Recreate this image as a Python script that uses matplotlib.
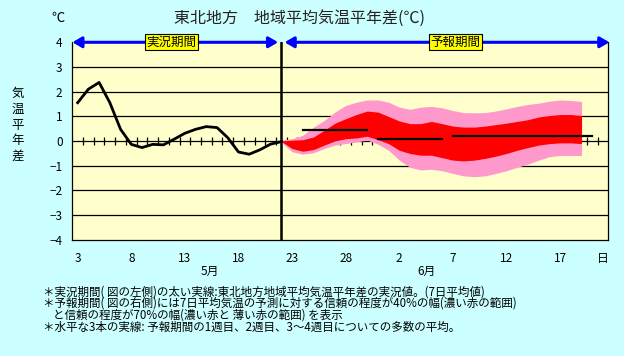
import matplotlib
matplotlib.use('Agg')
import matplotlib.pyplot as plt
import numpy as np

plt.rcParams['font.family'] = ['Noto Sans CJK JP', 'DejaVu Sans']

# day index 0 = May 3 ... 49 = June 21
tick_pos = [0, 5, 10, 15, 20, 25, 30, 35, 40, 45, 49]
tick_labels = ['3', '8', '13', '18', '23', '28', '2', '7', '12', '17', '日']

# observed 7-day mean anomaly, May 3 - May 22
obs = [1.55, 2.10, 2.37, 1.55, 0.47, -0.14, -0.27, -0.14, -0.16, 0.07,
       0.31, 0.47, 0.58, 0.54, 0.13, -0.45, -0.54, -0.36, -0.13, -0.03]

# forecast ranges, May 22 - June 19
fc_start = 19
pink_hi = [0.03, 0.09, 0.23, 0.56, 0.83, 1.17, 1.44, 1.57, 1.66, 1.66,
           1.57, 1.37, 1.28, 1.37, 1.40, 1.34, 1.23, 1.15, 1.14, 1.15,
           1.21, 1.30, 1.40, 1.48, 1.53, 1.61, 1.66, 1.64, 1.60]
red_hi = [0.0, 0.03, 0.05, 0.16, 0.43, 0.72, 0.90, 1.07, 1.21, 1.17,
          0.99, 0.81, 0.70, 0.70, 0.79, 0.70, 0.60, 0.56, 0.56, 0.60,
          0.66, 0.72, 0.79, 0.86, 0.97, 1.03, 1.07, 1.07, 1.03]
red_lo = [-0.02, -0.31, -0.42, -0.35, -0.17, 0.0, 0.09, 0.12, 0.19, 0.05,
          -0.11, -0.38, -0.51, -0.58, -0.58, -0.68, -0.78, -0.81, -0.78, -0.71,
          -0.62, -0.51, -0.38, -0.27, -0.17, -0.11, -0.08, -0.08, -0.11]
pink_lo = [-0.05, -0.44, -0.54, -0.48, -0.31, -0.17, -0.11, -0.04, 0.03, -0.13,
           -0.38, -0.78, -1.07, -1.18, -1.15, -1.21, -1.32, -1.42, -1.45, -1.42,
           -1.32, -1.21, -1.07, -0.94, -0.78, -0.64, -0.59, -0.59, -0.59]

# weekly ensemble means: week 1, week 2, weeks 3-4
week_start = [21, 28, 35]
week_end = [27, 34, 48]
week_mean = [0.45, 0.08, 0.21]

bg = '#CCFFFF'
fig = plt.figure(figsize=(6.24, 3.56), dpi=100, facecolor=bg)
ax = fig.add_axes([0.1159, 0.3272, 0.8590, 0.5540])
ax.set_facecolor('#FFFFCC')

x_obs = np.arange(len(obs))
x_fc = np.arange(fc_start, fc_start + len(pink_hi))

# grid
for y in [-3, -2, -1, 1, 2, 3]:
    ax.axhline(y, color='black', lw=0.9, zorder=1)
ax.axhline(0, color='black', lw=0.9, zorder=1)
ax.plot(np.arange(0.5, 49, 1.0), np.zeros(49), ls='none', marker='|',
        ms=6.3, mew=0.9, color='black', zorder=1)

ax.fill_between(x_fc, pink_lo, pink_hi, color='#FF99CC', lw=0, zorder=2)
ax.fill_between(x_fc, red_lo, red_hi, color='#FF0000', lw=0, zorder=3)

ax.plot(x_obs, obs, color='black', lw=2.0, zorder=4)
for s, e, m in zip(week_start, week_end, week_mean):
    ax.plot([s, e], [m, m], color='black', lw=1.6, solid_capstyle='projecting', zorder=4)

ax.axvline(fc_start, color='black', lw=1.8, zorder=5)

ax.set_xlim(-0.5, 49.5)
ax.set_ylim(-4, 4)
ax.set_xticks(tick_pos, tick_labels)
ax.set_yticks(range(-4, 5), [str(v) if v >= 0 else '−' + str(-v) for v in range(-4, 5)])
ax.tick_params(axis='x', length=0, pad=9, labelsize=8.5)
ax.tick_params(axis='y', length=0, pad=7, labelsize=8.5)
for s in ['left', 'bottom', 'right']:
    ax.spines[s].set_color('black')
    ax.spines[s].set_linewidth(0.9)
ax.spines['top'].set_visible(False)

# period arrows
arr = dict(arrowstyle='<|-|>,head_length=0.55,head_width=0.32', color='#0000FF',
           lw=2.2, shrinkA=0, shrinkB=0)
ax.annotate('', xy=(-0.5, 4), xytext=(18.7, 4), arrowprops=arr, annotation_clip=False, zorder=6)
ax.annotate('', xy=(19.3, 4), xytext=(49.6, 4), arrowprops=arr, annotation_clip=False, zorder=6)
box = dict(boxstyle='square,pad=0.12', fc='#FFFF00', ec='black', lw=0.8)
ax.text(8.77, 4, '実況期間', ha='center', va='center', fontsize=9, bbox=box, zorder=7, clip_on=False)
ax.text(35.27, 4, '予報期間', ha='center', va='center', fontsize=9, bbox=box, zorder=7, clip_on=False)

# titles and labels
fig.text(300 / 624, 1 - 18 / 356, '東北地方　地域平均気温平年差(℃)', ha='center', va='center',
         fontsize=11.5, color='#222222')
fig.text(58 / 624, 1 - 18 / 356, '℃', ha='center', va='center', fontsize=9.5)
fig.text(18 / 624, 1 - 125 / 356, '\n'.join('気温平年差'), ha='center', va='center',
         fontsize=9, linespacing=1.28)
fig.text(210 / 624, 1 - 271.7 / 356, '5月', ha='center', va='center', fontsize=8.5)
fig.text(426.7 / 624, 1 - 271.7 / 356, '6月', ha='center', va='center', fontsize=8.5)

notes = [
    (42.7, 291.7, '＊実況期間( 図の左側)の太い実線:東北地方地域平均気温平年差の実況値。(7日平均値)'),
    (42.7, 303.3, '＊予報期間( 図の右側)には7日平均気温の予測に対する信頼の程度が40%の幅(濃い赤の範囲)'),
    (52.7, 315.0, 'と信頼の程度が70%の幅(濃い赤と 薄い赤の範囲) を表示'),
    (42.7, 327.3, '＊水平な3本の実線: 予報期間の1週目、2週目、3～4週目についての多数の平均。'),
]
for nx, ny, t in notes:
    fig.text(nx / 624, 1 - ny / 356, t, ha='left', va='center', fontsize=8.3)

fig.savefig('out.png', dpi=100, facecolor=bg)
